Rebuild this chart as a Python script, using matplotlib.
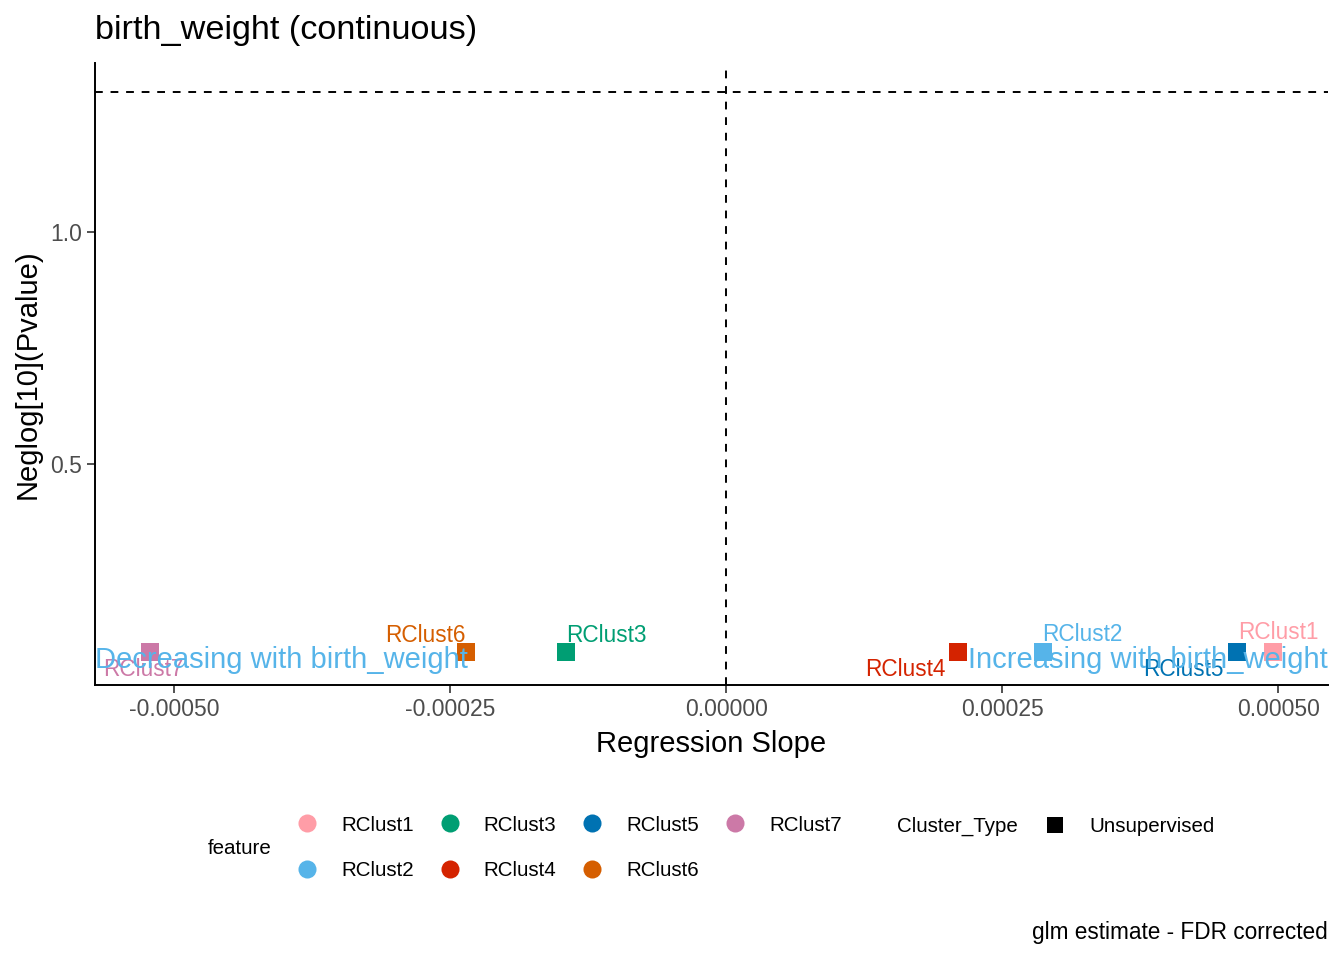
import matplotlib.pyplot as plt
from matplotlib.lines import Line2D
import numpy as np

plt.rcParams['font.family'] = ['Liberation Sans', 'DejaVu Sans']

# data
features = ['RClust1', 'RClust2', 'RClust3', 'RClust4', 'RClust5', 'RClust6', 'RClust7']
slope = [0.000495, 0.000287, -0.000145, 0.000210, 0.000463, -0.000236, -0.000522]
neglog_p = [0.095, 0.095, 0.095, 0.095, 0.095, 0.095, 0.095]
colors = ['#FF9DA7', '#56B4E9', '#009E73', '#D42300', '#0072B2', '#D55E00', '#CC79A7']

# label offsets (points) like ggrepel put them
label_offsets = {
    'RClust1': (4, -9.5), 'RClust2': (28, -8), 'RClust3': (29, -7),
    'RClust4': (-38, 17), 'RClust5': (-39, 17), 'RClust6': (-29, -7),
    'RClust7': (-5, 17.5),
}

fdr_line = -np.log10(0.05)
x_ticks = [-0.0005, -0.00025, 0.0, 0.00025, 0.0005]

fig = plt.figure(figsize=(13.44, 9.6), dpi=100)
ax = fig.add_axes([95 / 1344, 1 - 685 / 960, (1328 - 95) / 1344, (685 - 63) / 960])

ax.axhline(fdr_line, color='black', ls=(0, (4, 4)), lw=1.4, zorder=1)
ax.axvline(0, color='black', ls=(0, (4, 4)), lw=1.4, zorder=1)

for f, x, y, c in zip(features, slope, neglog_p, colors):
    ax.scatter(x, y, marker='s', s=180, color=c, zorder=3, linewidths=0)
    dx, dy = label_offsets[f]
    ax.annotate(f, (x, y), xytext=(dx, -dy), textcoords='offset points',
                ha='center', va='baseline', color=c, fontsize=16.3, zorder=4)

ax.text(0.0, 0.027, 'Decreasing with birth_weight', transform=ax.transAxes,
        ha='left', va='baseline', color='#56B4E9', fontsize=21, zorder=5)
ax.text(1.0, 0.027, 'Increasing with birth_weight', transform=ax.transAxes,
        ha='right', va='baseline', color='#56B4E9', fontsize=21, zorder=5)

ax.set_xlim(-0.0005716, 0.000545)
ax.set_ylim(0.0237, 1.364)
ax.set_xticks(x_ticks)
ax.set_xticklabels(['-0.00050', '-0.00025', '0.00000', '0.00025', '0.00050'])
ax.set_yticks([0.5, 1.0])
ax.set_yticklabels(['0.5', '1.0'])
ax.tick_params(colors='#333333', labelcolor='#4D4D4D', labelsize=16.5, length=6, width=1.2)
for side in ['top', 'right']:
    ax.spines[side].set_visible(False)
for side in ['left', 'bottom']:
    ax.spines[side].set_linewidth(1.4)

ax.set_xlabel('Regression Slope', fontsize=21, labelpad=6)
ax.set_ylabel('Neglog[10](Pvalue)', fontsize=21, labelpad=6)
ax.set_title('birth_weight (continuous)', fontsize=24.7, loc='left', pad=17)

# feature legend
handles = [Line2D([], [], ls='', marker='o', markersize=13, color=c, markeredgewidth=0)
           for c in colors]
leg1 = fig.legend(handles, features, ncol=4, loc='center left',
                  bbox_to_anchor=(297 / 1344, 1 - 848 / 960), frameon=False,
                  fontsize=14.8, handlelength=1.0, handletextpad=1.15,
                  columnspacing=1.25, labelspacing=1.3, borderpad=0, borderaxespad=0)
fig.text(208 / 1344, 1 - 849 / 960, 'feature', fontsize=14.8, va='center', ha='left')

# cluster type legend
fig.text(897 / 1344, 1 - 826 / 960, 'Cluster_Type', fontsize=14.8, va='center', ha='left')
sq = [Line2D([], [], ls='', marker='s', markersize=12, color='black', markeredgewidth=0)]
fig.legend(sq, ['Unsupervised'], loc='center left',
           bbox_to_anchor=(1045 / 1344, 1 - 827 / 960), frameon=False,
           fontsize=14.8, handlelength=1.0, handletextpad=1.15, borderpad=0, borderaxespad=0)

fig.text(1328 / 1344, 1 - 933 / 960, 'glm estimate - FDR corrected', fontsize=16.3,
         ha='right', va='center')

fig.savefig('out.png', dpi=100)
